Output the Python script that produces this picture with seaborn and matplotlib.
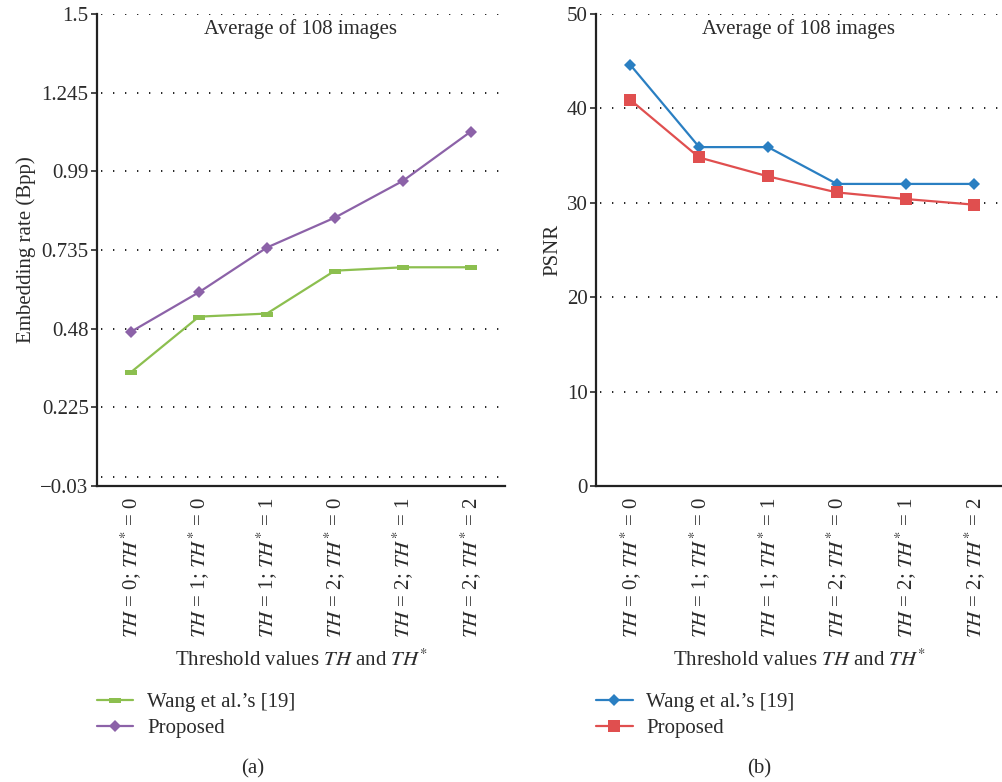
import matplotlib
matplotlib.use("Agg")
import matplotlib.pyplot as plt
import seaborn as sns
import pandas as pd
import numpy as np
from matplotlib.path import Path

# Threshold settings on the x axis
thresholds = ["$TH$ = 0; $TH^{*}$ = 0", "$TH$ = 1; $TH^{*}$ = 0", "$TH$ = 1; $TH^{*}$ = 1",
              "$TH$ = 2; $TH^{*}$ = 0", "$TH$ = 2; $TH^{*}$ = 1", "$TH$ = 2; $TH^{*}$ = 2"]

# (a) Embedding rate (bpp)
rate_wang = [0.339, 0.519, 0.529, 0.668, 0.679, 0.679]
rate_proposed = [0.470, 0.598, 0.743, 0.840, 0.959, 1.119]
rate_ticks = [-0.03, 0.225, 0.48, 0.735, 0.99, 1.245, 1.5]
rate_ticklabels = ["\u22120.03", "0.225", "0.48", "0.735", "0.99", "1.245", "1.5"]

# (b) PSNR (dB)
psnr_wang = [44.6, 35.9, 35.9, 32.0, 32.0, 32.0]
psnr_proposed = [40.9, 34.8, 32.8, 31.1, 30.4, 29.8]
psnr_ticks = [0, 10, 20, 30, 40, 50]

sns.set_theme(style="white")
plt.rcParams["font.family"] = ["Liberation Serif", "DejaVu Serif"]
plt.rcParams["mathtext.fontset"] = "stix"
TEXT = "#2b2b2b"
plt.rcParams["text.color"] = TEXT
plt.rcParams["axes.labelcolor"] = TEXT
plt.rcParams["xtick.color"] = TEXT
plt.rcParams["ytick.color"] = TEXT

GREEN = "#8cbf4f"
PURPLE = "#8c62a8"
BLUE = "#2a7fc2"
RED = "#e04f4f"

# Flat rectangle marker
flat_rect = Path([(-1, -0.4), (1, -0.4), (1, 0.4), (-1, 0.4), (-1, -0.4)],
                 [Path.MOVETO, Path.LINETO, Path.LINETO, Path.LINETO, Path.CLOSEPOLY])

x = np.arange(len(thresholds))
df_rate = pd.DataFrame({"x": np.tile(x, 2),
                        "value": rate_wang + rate_proposed,
                        "method": ["Wang et al.\u2019s [19]"] * 6 + ["Proposed"] * 6})
df_psnr = pd.DataFrame({"x": np.tile(x, 2),
                        "value": psnr_wang + psnr_proposed,
                        "method": ["Wang et al.\u2019s [19]"] * 6 + ["Proposed"] * 6})

fig = plt.figure(figsize=(10.02, 7.82), dpi=100)
ax1 = fig.add_axes([0.0968, 0.3785, 0.407, 0.6036])
ax2 = fig.add_axes([0.5948, 0.3785, 0.4052, 0.6036])

FS = 15
dots = dict(color="black", linewidth=1.2, linestyle=(0, (0.8, 6.4)), zorder=0)


def style_axes(ax, ticks, labels, ylim, xlim, ylabel, grid_vals):
    ax.set_xlim(*xlim)
    ax.set_ylim(*ylim)
    for v in grid_vals:
        ax.axhline(v, xmin=0.01, **dots)
    ax.set_yticks(ticks)
    ax.set_yticklabels(labels, fontsize=FS)
    ax.set_xticks(x)
    ax.set_xticklabels(thresholds, rotation=90, fontsize=FS)
    ax.tick_params(axis="y", direction="out", length=4, width=1.2, pad=2, left=True)
    ax.tick_params(axis="x", length=0, pad=8)
    for s in ["top", "right"]:
        ax.spines[s].set_visible(False)
    for s in ["left", "bottom"]:
        ax.spines[s].set_color("#222222")
        ax.spines[s].set_linewidth(1.6)
    ax.set_ylabel(ylabel, fontsize=FS, labelpad=3)
    ax.set_xlabel("Threshold values $TH$ and $TH^{*}$", fontsize=FS, labelpad=8)
    ax.text(0.5, 0.99, "Average of 108 images", transform=ax.transAxes,
            ha="center", va="top", fontsize=FS)


# (a)
sns.lineplot(data=df_rate[df_rate.method != "Proposed"], x="x", y="value", ax=ax1,
             color=GREEN, marker=flat_rect, markersize=9, markeredgewidth=0,
             linewidth=1.6, label="Wang et al.\u2019s [19]")
sns.lineplot(data=df_rate[df_rate.method == "Proposed"], x="x", y="value", ax=ax1,
             color=PURPLE, marker="D", markersize=6, markeredgewidth=0,
             linewidth=1.6, label="Proposed")
style_axes(ax1, rate_ticks, rate_ticklabels, (-0.03, 1.5), (-0.5, 5.5),
           "Embedding rate (Bpp)", [0.0, 0.225, 0.48, 0.735, 0.99, 1.245, 1.5])

# (b)
sns.lineplot(data=df_psnr[df_psnr.method != "Proposed"], x="x", y="value", ax=ax2,
             color=BLUE, marker="D", markersize=6, markeredgewidth=0,
             linewidth=1.6, label="Wang et al.\u2019s [19]")
sns.lineplot(data=df_psnr[df_psnr.method == "Proposed"], x="x", y="value", ax=ax2,
             color=RED, marker="s", markersize=8, markeredgewidth=0,
             linewidth=1.6, label="Proposed")
style_axes(ax2, psnr_ticks, [str(t) for t in psnr_ticks], (0, 50), (-0.5, 5.4),
           "PSNR", [10, 20, 30, 40, 50])

for ax, anchor, cap, cx in [(ax1, (0.0968, 0.114), "(a)", 0.252),
                            (ax2, (0.595, 0.114), "(b)", 0.758)]:
    leg = ax.legend(loc="upper left", bbox_to_anchor=anchor, bbox_transform=fig.transFigure,
                    frameon=False, fontsize=FS, handlelength=1.75, handletextpad=0.65,
                    labelspacing=0.3, borderpad=0, borderaxespad=0)
    fig.text(cx, 0.004, cap, ha="center", va="bottom", fontsize=FS)

fig.savefig("out.png", dpi=100)
